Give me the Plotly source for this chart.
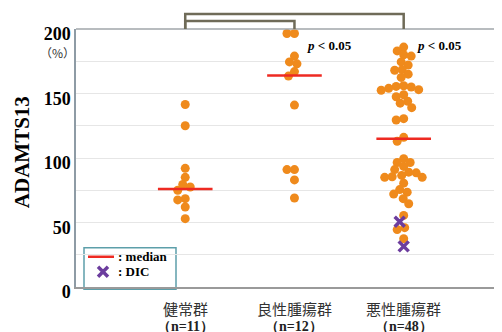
import numpy as np
import plotly.graph_objects as go

# ---------------- data ----------------
groups = ["健常群", "良性腫瘍群", "悪性腫瘍群"]
group_n = ["（n=11）", "（n=12）", "（n=48）"]

healthy = [141.5, 125, 92, 85, 79.5, 77.5, 75, 68.5, 67.5, 62, 53]
benign = [196.5, 196.5, 179, 174.5, 173, 167, 163.5, 141, 91, 91, 83, 69]
malignant = [186, 183, 180, 179, 174.5, 172, 168.5, 168, 165, 162.5,
             155.5, 153, 155, 156, 154, 152.5, 147.5, 149, 144, 142.5,
             139, 130.5, 129.5, 116, 113,
             99.5, 96.5, 96.5, 93.5, 91, 89, 88.5, 86.5, 85.5, 85, 85,
             80.5, 75.5, 73.5, 72, 68.5, 64.5, 55.5, 46, 44.5, 37.5]
malignant_dic = [50.5, 31.5]
medians = [76, 164, 115]

y_ticks = [0, 25, 50, 75, 100, 125, 150, 175, 200]
y_ticktext = ["0", "", "50", "", "100", "", "150", "", "200"]
p_texts = ["<i>p</i> < 0.05", "<i>p</i> < 0.05"]
legend_texts = [": median", ": DIC"]

# ---------------- layout geometry ----------------
OFF = 8  # page body margin
W, H = 502 - OFF, 332 - OFF
ML, MR, MT = 76 - OFF, 0, 29 - OFF
PLOT_BOTTOM = 286.7 - OFF
MB = H - PLOT_BOTTOM
PW, PH = W - ML - MR, PLOT_BOTTOM - MT
XR = [0, 3.9]
YR = [0, 200]
PX_X = PW / (XR[1] - XR[0])
PX_Y = PH / (YR[1] - YR[0])

SERIF = "Liberation Serif, Times New Roman, serif"
CJK = "Noto Sans CJK JP, sans-serif"
ORANGE = "#ef8a1c"
PURPLE = "#6c3d9e"
RED = "#ee2a22"
BRACKET = "#6f6b58"

X_MARK = dict(color=PURPLE, size=10, symbol="x-thin", line=dict(width=3.5, color=PURPLE))


def swarm(vals, dmin=7.5):
    order = sorted(range(len(vals)), key=lambda i: -vals[i])
    placed = []
    offs = [0.0] * len(vals)
    cands = sorted(np.arange(-45, 45.01, 0.5), key=abs)
    for i in order:
        y = vals[i] * PX_Y
        for c in cands:
            if all((c - px) ** 2 + (y - py) ** 2 >= dmin ** 2 for px, py in placed):
                break
        placed.append((c, y))
        offs[i] = c / PX_X
    return offs


# helpers: screen pixel (as seen in the page) -> paper fraction
def px2paper_x(px):
    return (px - OFF - ML) / PW


def px2paper_y(py):
    return (PLOT_BOTTOM - (py - OFF)) / PH


fig = go.Figure()

centers = [1, 2, 3]
all_sets = [healthy, benign, malignant + malignant_dic]
for ci, vals in zip(centers, all_sets):
    offs = swarm(vals)
    n_c = len(vals) if ci != 3 else len(malignant)
    fig.add_trace(go.Scatter(
        x=[ci + o for o in offs[:n_c]], y=vals[:n_c], mode="markers",
        marker=dict(color=ORANGE, size=9, line=dict(width=0)),
        showlegend=False, hoverinfo="y"))
    if ci == 3:
        fig.add_trace(go.Scatter(
            x=[ci + o for o in offs[n_c:]], y=vals[n_c:], mode="markers",
            marker=X_MARK, showlegend=False, hoverinfo="y"))

# median lines
mx, my = [], []
for c, m in zip(centers, medians):
    mx += [c - 0.25, c + 0.25, None]
    my += [m, m, None]
fig.add_trace(go.Scatter(x=mx, y=my, mode="lines",
                         line=dict(color=RED, width=2.5), showlegend=False,
                         hoverinfo="skip"))

# legend marker (DIC key)
fig.add_trace(go.Scatter(
    x=[XR[0] + px2paper_x(103) * (XR[1] - XR[0])],
    y=[YR[0] + px2paper_y(271.5) * (YR[1] - YR[0])], mode="markers",
    marker=X_MARK, showlegend=False, hoverinfo="skip"))

shapes = []
# top border
shapes.append(dict(type="line", xref="paper", yref="paper", x0=0, x1=1, y0=1, y1=1,
                   line=dict(color="#a0a6aa", width=1.5), layer="above"))
# brackets
yo = px2paper_y(14)
yi = px2paper_y(21)
shapes.append(dict(type="path", xref="x", yref="paper",
                   path=f"M 1,1 L 1,{yo} L 3,{yo} L 3,1",
                   line=dict(color=BRACKET, width=2.5)))
shapes.append(dict(type="path", xref="x", yref="paper",
                   path=f"M 1,1 L 1,{yi} L 2,{yi} L 2,1",
                   line=dict(color=BRACKET, width=2.5)))
# legend box
shapes.append(dict(type="rect", xref="paper", yref="paper",
                   x0=px2paper_x(84), x1=px2paper_x(176),
                   y0=px2paper_y(289), y1=px2paper_y(247.5),
                   line=dict(color="#5d9faa", width=1.5), fillcolor="white",
                   layer="below"))
shapes.append(dict(type="line", xref="paper", yref="paper",
                   x0=px2paper_x(88), x1=px2paper_x(114),
                   y0=px2paper_y(256.5), y1=px2paper_y(256.5),
                   line=dict(color=RED, width=2.5)))

annotations = []
# p-values
for cx, t in zip([2, 3], p_texts):
    annotations.append(dict(x=cx + 11 / PX_X, y=px2paper_y(45.5), xref="x", yref="paper",
                            text=t, showarrow=False, xanchor="left", yanchor="middle",
                            font=dict(family=SERIF, size=13, color="black", weight="bold")))
# legend texts
for ly, t in zip([256.5, 271.5], legend_texts):
    annotations.append(dict(x=px2paper_x(116), y=px2paper_y(ly), xref="paper", yref="paper",
                            text=t, showarrow=False, xanchor="left", yanchor="middle",
                            font=dict(family=SERIF, size=13, color="black", weight="bold")))
# category labels
for c, g, n in zip(centers, groups, group_n):
    annotations.append(dict(x=c, y=px2paper_y(308), xref="x", yref="paper", text=g,
                            showarrow=False, xanchor="center", yanchor="middle",
                            font=dict(family=CJK, size=15, color="#333333")))
    annotations.append(dict(x=c, y=px2paper_y(326), xref="x", yref="paper", text=n,
                            showarrow=False, xanchor="center", yanchor="middle",
                            font=dict(family=SERIF, size=14, color="#222222", weight="bold")))
# (%) unit
annotations.append(dict(x=px2paper_x(57), y=px2paper_y(52), xref="paper", yref="paper",
                        text="（%）", showarrow=False, xanchor="center", yanchor="middle",
                        font=dict(family=CJK, size=12, color="#333333")))
# y title
annotations.append(dict(x=px2paper_x(22), y=px2paper_y(152), xref="paper", yref="paper",
                        text="ADAMTS13", showarrow=False, textangle=-90,
                        xanchor="center", yanchor="middle",
                        font=dict(family=SERIF, size=21, color="black", weight="bold")))

fig.update_layout(
    width=W, height=H,
    margin=dict(l=ML, r=MR, t=MT, b=MB, pad=0),
    paper_bgcolor="white", plot_bgcolor="white",
    shapes=shapes, annotations=annotations,
    xaxis=dict(range=XR, showticklabels=False, showgrid=False, zeroline=False,
               showline=True, linecolor="#9a9a9a", linewidth=2, ticks=""),
    yaxis=dict(range=YR, tickvals=y_ticks, ticktext=y_ticktext, showgrid=True,
               gridcolor="#e6e6e6", gridwidth=1, zeroline=False,
               showline=True, linecolor="#8e9ba5", linewidth=1.5, ticks="",
               ticklabelshift=5, ticklabelstandoff=0,
               tickfont=dict(family=SERIF, size=18, color="black", weight="bold")),
    showlegend=False,
)

fig.write_html("out.html")
